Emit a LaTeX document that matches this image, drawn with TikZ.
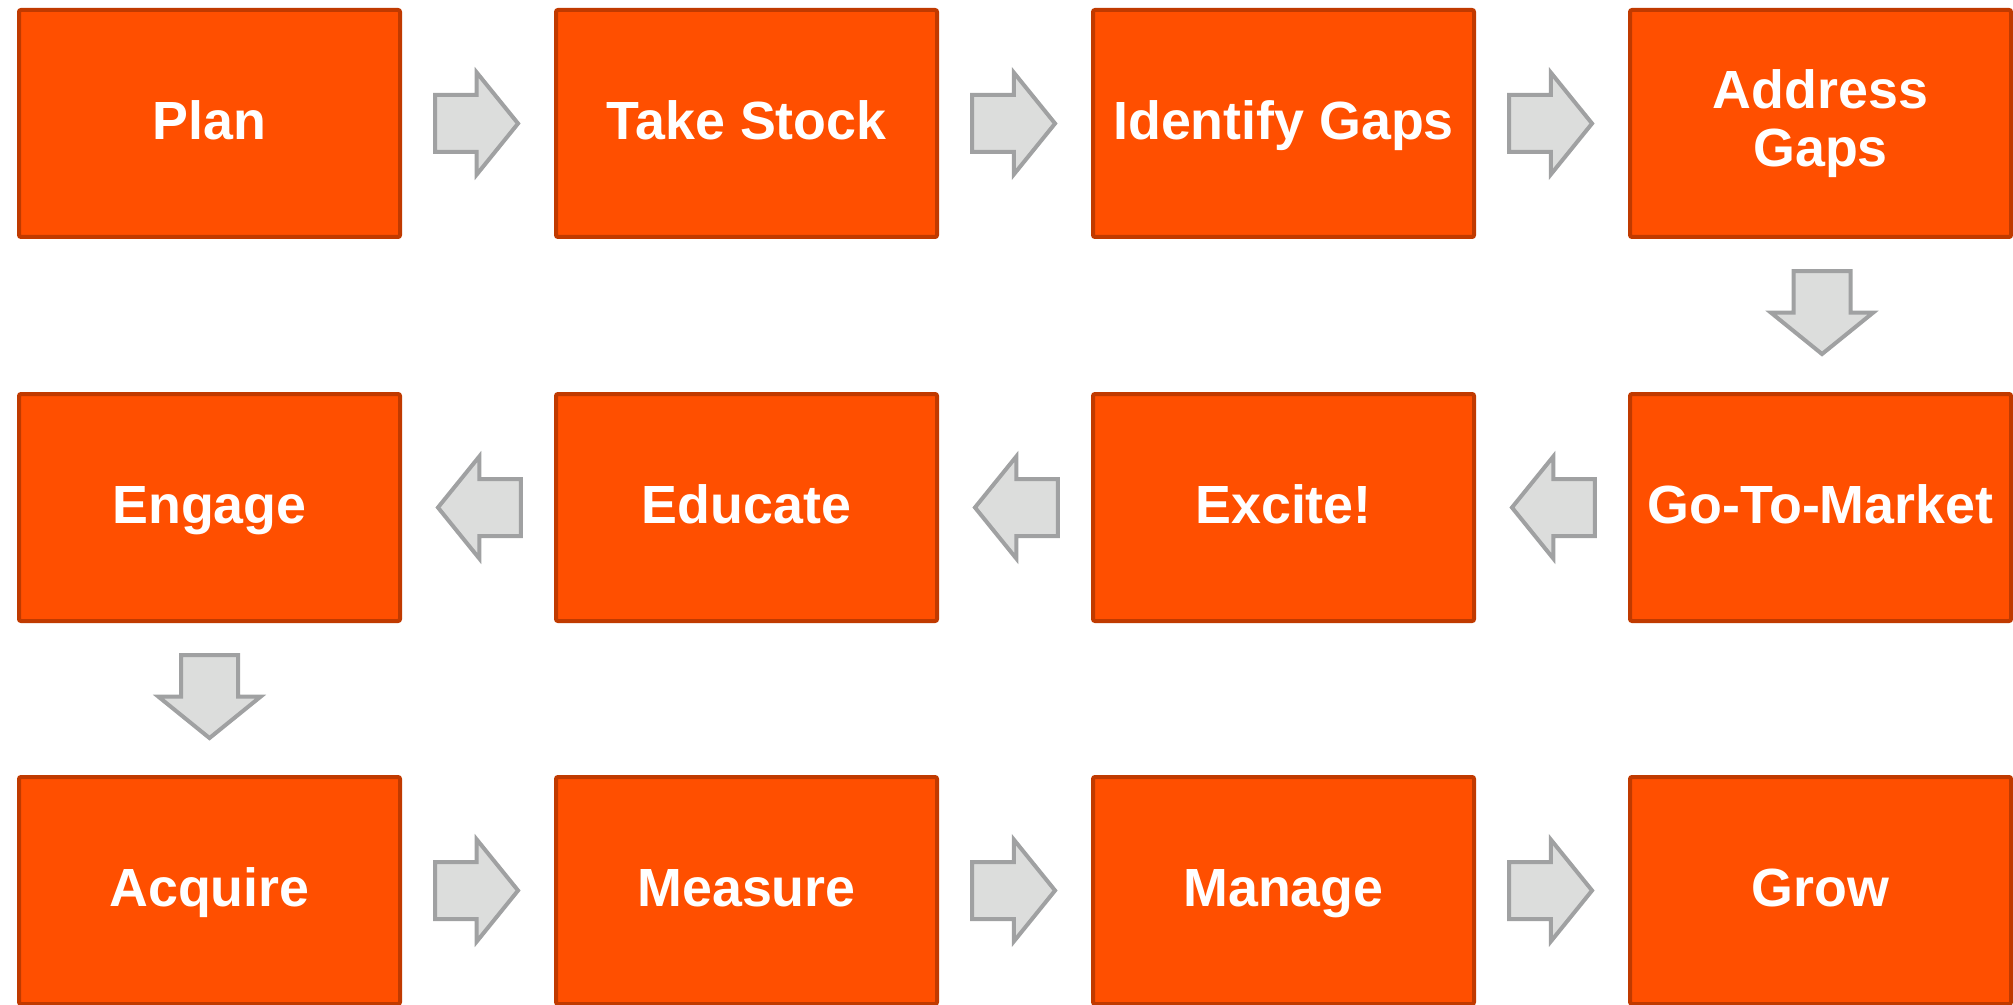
\documentclass[tikz,border=0pt]{standalone}
\usepackage{fontspec}
\setmainfont{Liberation Sans}
\usetikzlibrary{shapes.arrows}
\definecolor{boxfill}{HTML}{FF4F00}
\definecolor{boxline}{HTML}{C03A00}
\definecolor{arrfill}{HTML}{DCDDDC}
\definecolor{arrline}{HTML}{A0A1A2}
\begin{document}
\begin{tikzpicture}[auto,
    stage/.style={draw=boxline, fill=boxfill, line width=0.04cm, rounded corners=0.02cm,
      minimum width=3.81cm, minimum height=2.27cm, inner sep=0pt, align=center,
      text height=0.39cm, text depth=0.07cm,
      text=white, font=\fontsize{15.3}{16.5}\selectfont\bfseries},
    flow/.style={single arrow, draw=arrline, fill=arrfill, line width=0.04cm,
      inner xsep=0pt, inner ysep=0.265cm, minimum height=0.83cm,
      single arrow head extend=0.225cm, single arrow tip angle=102},
    flowdown/.style={flow, shape border rotate=270, inner xsep=0.265cm, inner ysep=0pt}]
    \useasboundingbox (0,0) rectangle (20.13,10.04);
    \node[stage] (a) at (2.095, 8.805) {Plan};
    \node[stage] (b) at (7.465, 8.805) {Take Stock};
    \node[stage] (c) at (12.835, 8.805) {Identify Gaps};
    \node[stage, text height=, text depth=] (d) at (18.205, 8.805) {Address\\Gaps};
    \node[stage] (e) at (18.205, 4.965) {Go-To-Market};
    \node[stage] (f) at (12.835, 4.965) {Excite!};
    \node[stage] (g) at (7.465, 4.965) {Educate};
    \node[stage] (h) at (2.095, 4.965) {Engage};
    \node[stage] (i) at (2.095, 1.135) {Acquire};
    \node[stage] (j) at (7.465, 1.135) {Measure};
    \node[stage] (k) at (12.835, 1.135) {Manage};
    \node[stage] (l) at (18.205, 1.135) {Grow};
    \node[flow] (ab) at (4.65, 8.805) {};
    \node[flow] (bc) at (10.02, 8.805) {};
    \node[flow] (cd) at (15.39, 8.805) {};
    \node[flowdown] (de) at (18.22, 7.03) {};
    \node[flow, shape border rotate=180] (ef) at (15.65, 4.965) {};
    \node[flow, shape border rotate=180] (fg) at (10.28, 4.965) {};
    \node[flow, shape border rotate=180] (gh) at (4.91, 4.965) {};
    \node[flowdown] (hi) at (2.095, 3.19) {};
    \node[flow] (ij) at (4.65, 1.135) {};
    \node[flow] (jk) at (10.02, 1.135) {};
    \node[flow] (kl) at (15.39, 1.135) {};
  \end{tikzpicture}
\end{document}
